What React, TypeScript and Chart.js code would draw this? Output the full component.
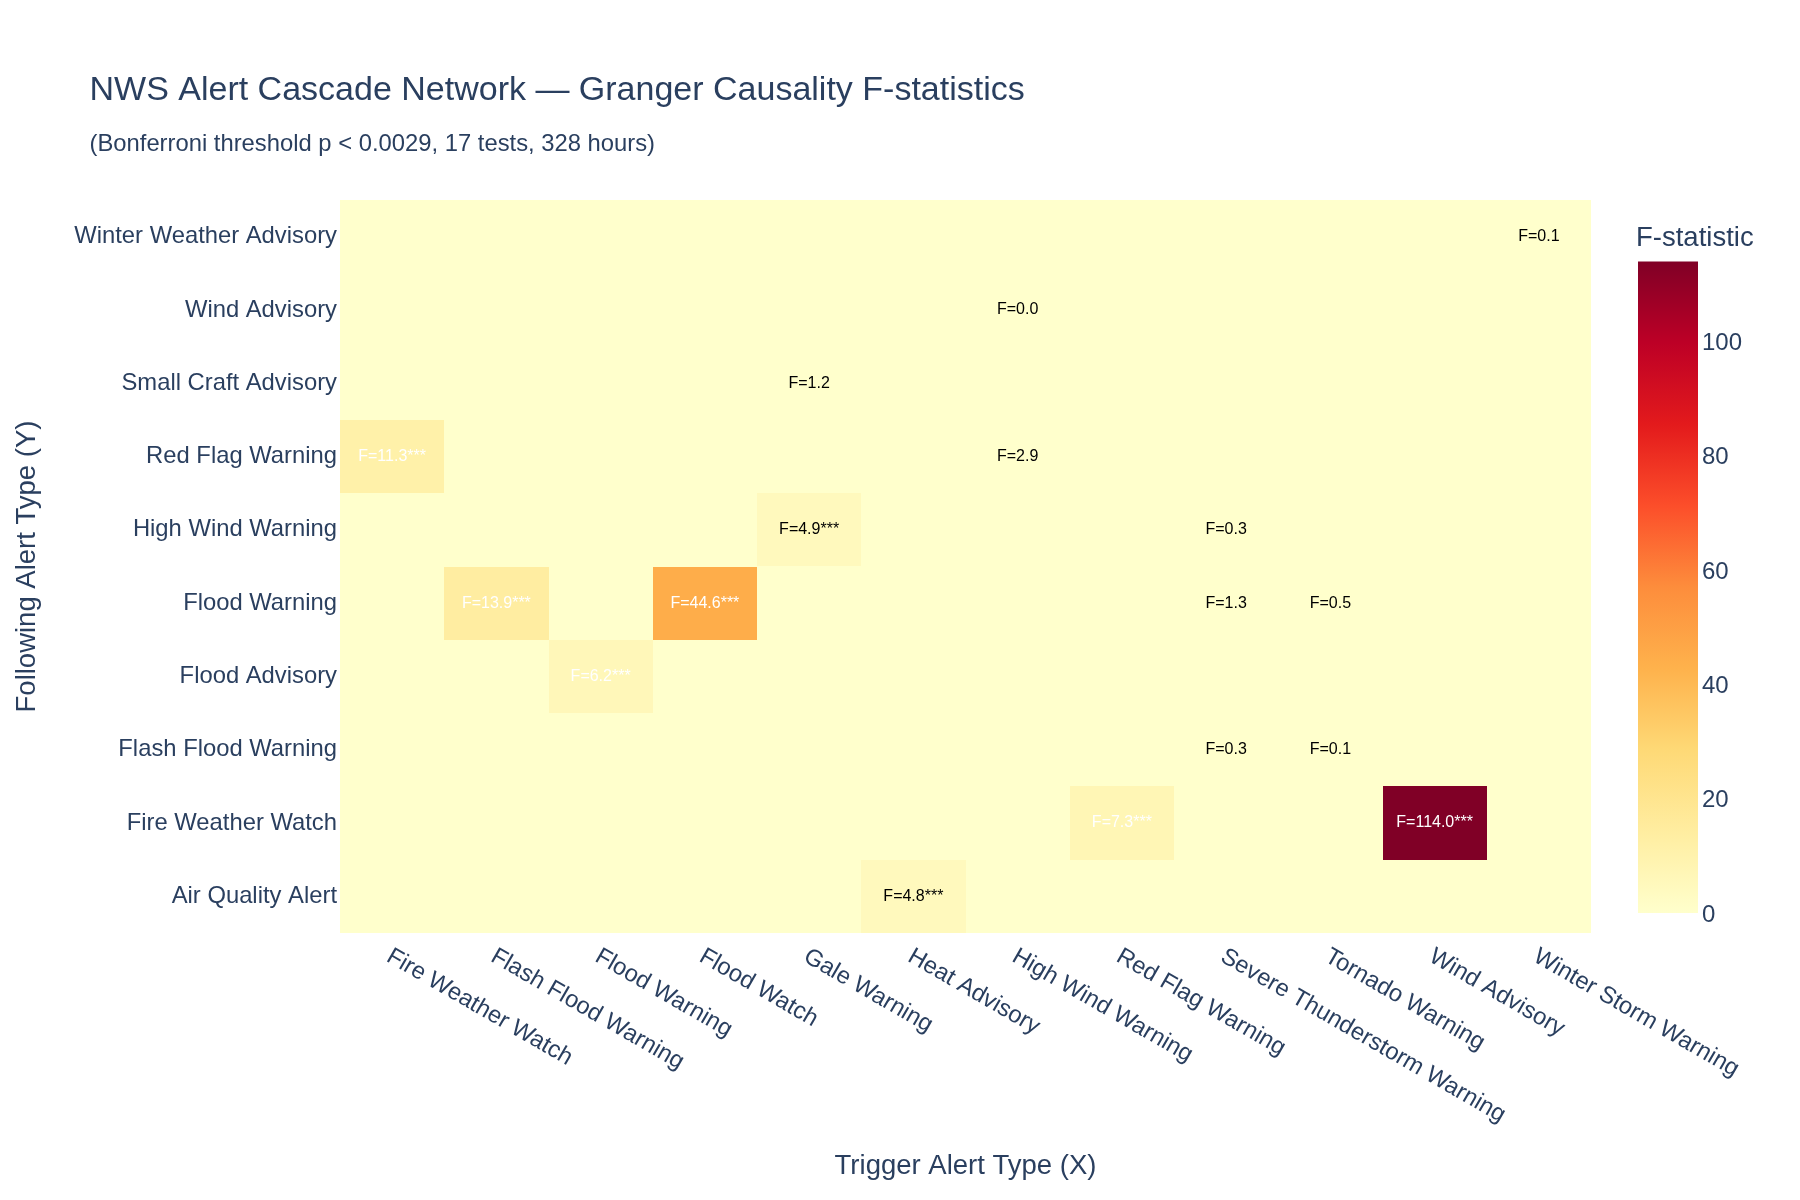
import React, { useEffect, useRef } from "react";
import { Chart, registerables } from "chart.js";

Chart.register(...registerables);

// Trigger alert types (columns, left to right)
const triggerTypes = [
  "Fire Weather Watch",
  "Flash Flood Warning",
  "Flood Warning",
  "Flood Watch",
  "Gale Warning",
  "Heat Advisory",
  "High Wind Warning",
  "Red Flag Warning",
  "Severe Thunderstorm Warning",
  "Tornado Warning",
  "Wind Advisory",
  "Winter Storm Warning",
];

// Following alert types (rows, bottom to top)
const followingTypes = [
  "Air Quality Alert",
  "Fire Weather Watch",
  "Flash Flood Warning",
  "Flood Advisory",
  "Flood Warning",
  "High Wind Warning",
  "Red Flag Warning",
  "Small Craft Advisory",
  "Wind Advisory",
  "Winter Weather Advisory",
];

// The 17 Granger tests: trigger -> following, F-statistic, Bonferroni significance
const testTrigger = [
  "Winter Storm Warning",
  "High Wind Warning",
  "Gale Warning",
  "Fire Weather Watch",
  "High Wind Warning",
  "Gale Warning",
  "Severe Thunderstorm Warning",
  "Flash Flood Warning",
  "Flood Watch",
  "Severe Thunderstorm Warning",
  "Tornado Warning",
  "Flood Warning",
  "Severe Thunderstorm Warning",
  "Tornado Warning",
  "Red Flag Warning",
  "Wind Advisory",
  "Heat Advisory",
];
const testFollowing = [
  "Winter Weather Advisory",
  "Wind Advisory",
  "Small Craft Advisory",
  "Red Flag Warning",
  "Red Flag Warning",
  "High Wind Warning",
  "High Wind Warning",
  "Flood Warning",
  "Flood Warning",
  "Flood Warning",
  "Flood Warning",
  "Flood Advisory",
  "Flash Flood Warning",
  "Flash Flood Warning",
  "Fire Weather Watch",
  "Fire Weather Watch",
  "Air Quality Alert",
];
const testF = [0.1, 0.0, 1.2, 11.3, 2.9, 4.9, 0.3, 13.9, 44.6, 1.3, 0.5, 6.2, 0.3, 0.1, 7.3, 114.0, 4.8];
const testSignificant = [
  false, false, false, true, false, true, false, true, true, false, false, true, false, false, true, true, true,
];

const colorbarTicks = [0, 20, 40, 60, 80, 100];

const TITLE = "NWS Alert Cascade Network \u2014 Granger Causality F-statistics";
const SUBTITLE = "(Bonferroni threshold p < 0.0029, 17 tests, 328 hours)";
const X_TITLE = "Trigger Alert Type (X)";
const Y_TITLE = "Following Alert Type (Y)";
const COLORBAR_TITLE = "F-statistic";

const FONT = "'Liberation Sans', Arial, sans-serif";
const INK = "#2a3f5f";
const YL_OR_RD = ["#ffffcc", "#ffeda0", "#fed976", "#feb24c", "#fd8d3c", "#fc4e2a", "#e31a1c", "#bd0026", "#800026"];
const WHITE_TEXT_ABOVE = 5;

const zMin = 0;
const zMax = Math.max(...testF);

function hexToRgb(h: string) {
  const n = parseInt(h.slice(1), 16);
  return [(n >> 16) & 255, (n >> 8) & 255, n & 255];
}

function colorFor(v: number) {
  let t = (v - zMin) / (zMax - zMin);
  t = Math.max(0, Math.min(1, t));
  const seg = t * (YL_OR_RD.length - 1);
  const i = Math.min(Math.floor(seg), YL_OR_RD.length - 2);
  const f = seg - i;
  const a = hexToRgb(YL_OR_RD[i]);
  const b = hexToRgb(YL_OR_RD[i + 1]);
  const c = a.map((av, k) => Math.round(av + (b[k] - av) * f));
  return `rgb(${c[0]},${c[1]},${c[2]})`;
}

// Shading only carries the Bonferroni-significant links; the other tests are labelled but left at zero.
type Cell = { trigger: string; following: string; shade: number; label: string; textColor: string };

function buildCells(): Cell[] {
  const cells: Cell[] = [];
  followingTypes.forEach((fol) => {
    triggerTypes.forEach((trig) => {
      const k = testTrigger.findIndex((t, i) => t === trig && testFollowing[i] === fol);
      const f = k >= 0 ? testF[k] : 0;
      const sig = k >= 0 && testSignificant[k];
      const shade = sig ? f : 0;
      const label = k >= 0 ? `F=${f.toFixed(1)}${sig ? "***" : ""}` : "";
      const textColor = f > WHITE_TEXT_ABOVE ? "#ffffff" : "#000000";
      cells.push({ trigger: trig, following: fol, shade, label, textColor });
    });
  });
  return cells;
}

export default function App() {
  const canvasRef = useRef<HTMLCanvasElement | null>(null);

  useEffect(() => {
    document.body.style.margin = "0";
    const canvas = canvasRef.current;
    if (!canvas) return;
    const cells = buildCells();

    const heatmapPlugin = {
      id: "heatmapCells",
      beforeDatasetsDraw(chart: any) {
        const { ctx, chartArea } = chart;
        const xs = chart.scales.x;
        const ys = chart.scales.y;
        const cw = xs.width / triggerTypes.length;
        const ch = ys.height / followingTypes.length;
        const meta = chart.getDatasetMeta(0);
        ctx.save();
        // base tone under the grid so shared cell edges never show seams
        ctx.fillStyle = colorFor(zMin);
        ctx.fillRect(chartArea.left, chartArea.top, chartArea.right - chartArea.left, chartArea.bottom - chartArea.top);
        meta.data.forEach((el: any, i: number) => {
          if (cells[i].shade === zMin) return;
          const l = Math.round(el.x - cw / 2);
          const r = Math.round(el.x + cw / 2);
          const t = Math.round(el.y - ch / 2);
          const b = Math.round(el.y + ch / 2);
          ctx.fillStyle = colorFor(cells[i].shade);
          ctx.fillRect(l, t, r - l, b - t);
        });
        ctx.restore();
      },
      afterDatasetsDraw(chart: any) {
        const { ctx } = chart;
        const meta = chart.getDatasetMeta(0);
        ctx.save();
        ctx.font = `16px ${FONT}`;
        ctx.textAlign = "center";
        ctx.textBaseline = "middle";
        meta.data.forEach((el: any, i: number) => {
          const c = cells[i];
          if (!c.label) return;
          ctx.fillStyle = c.textColor;
          ctx.fillText(c.label, el.x, el.y);
        });
        ctx.restore();
      },
      afterDraw(chart: any) {
        const { ctx, chartArea } = chart;
        const xs = chart.scales.x;
        ctx.save();

        // Title and subtitle
        ctx.fillStyle = INK;
        ctx.textAlign = "left";
        ctx.textBaseline = "alphabetic";
        ctx.font = `34px ${FONT}`;
        ctx.fillText(TITLE, 89.5, 100);
        ctx.font = `23.8px ${FONT}`;
        ctx.fillText(SUBTITLE, 89.5, 151);

        // Rotated category labels along the bottom axis
        ctx.font = `23.8px ${FONT}`;
        triggerTypes.forEach((lab, i) => {
          const px = xs.getPixelForTick(i);
          ctx.save();
          ctx.translate(px - 7, chartArea.bottom + 27.4);
          ctx.rotate(Math.PI / 6);
          ctx.fillText(lab, 0, 0);
          ctx.restore();
        });

        // Colour bar
        const cbLeft = 1638;
        const cbWidth = 60;
        const cbTop = 261.5;
        const cbBottom = 913;
        const grad = ctx.createLinearGradient(0, cbBottom, 0, cbTop);
        YL_OR_RD.forEach((c, k) => grad.addColorStop(k / (YL_OR_RD.length - 1), c));
        ctx.fillStyle = grad;
        ctx.fillRect(cbLeft, cbTop, cbWidth, cbBottom - cbTop);

        ctx.fillStyle = INK;
        ctx.font = `24px ${FONT}`;
        colorbarTicks.forEach((v) => {
          const y = cbBottom - ((v - zMin) / (zMax - zMin)) * (cbBottom - cbTop);
          ctx.fillText(String(v), 1702, y + 8.6);
        });
        ctx.font = `27.5px ${FONT}`;
        ctx.fillText(COLORBAR_TITLE, 1636, 246);

        ctx.restore();
      },
    };

    const chart = new Chart(canvas, {
      type: "scatter",
      data: {
        datasets: [
          {
            data: cells.map((c) => ({ x: c.trigger, y: c.following })) as any,
            pointRadius: 0,
            pointHoverRadius: 0,
          },
        ],
      },
      options: {
        animation: false,
        responsive: false,
        devicePixelRatio: 1,
        events: [],
        layout: { padding: { top: 200, right: 209, bottom: 0, left: 0 } },
        plugins: {
          legend: { display: false },
          tooltip: { enabled: false },
          title: { display: false },
        },
        scales: {
          x: {
            type: "category",
            labels: triggerTypes,
            offset: true,
            grid: { display: false, drawTicks: false },
            border: { display: false },
            ticks: { display: false },
            title: {
              display: true,
              text: X_TITLE,
              color: INK,
              font: { family: FONT, size: 27.5 },
              padding: { top: 0, bottom: 17.2 },
            },
            afterFit(scale: any) {
              scale.height = 267;
            },
          },
          y: {
            type: "category",
            labels: followingTypes,
            reverse: true,
            offset: true,
            grid: { display: false, drawTicks: false },
            border: { display: false },
            ticks: {
              color: INK,
              font: { family: FONT, size: 23.8 },
              padding: 3,
              autoSkip: false,
            },
            title: {
              display: true,
              text: Y_TITLE,
              color: INK,
              font: { family: FONT, size: 27.5 },
              padding: { top: 11, bottom: 0 },
            },
            afterFit(scale: any) {
              scale.width = 340;
            },
          },
        },
      } as any,
      plugins: [heatmapPlugin],
    });

    return () => chart.destroy();
  }, []);

  return (
    <div style={{ width: 1800, height: 1200, background: "#ffffff" }}>
      <canvas ref={canvasRef} width={1800} height={1200} style={{ display: "block" }} />
    </div>
  );
}
